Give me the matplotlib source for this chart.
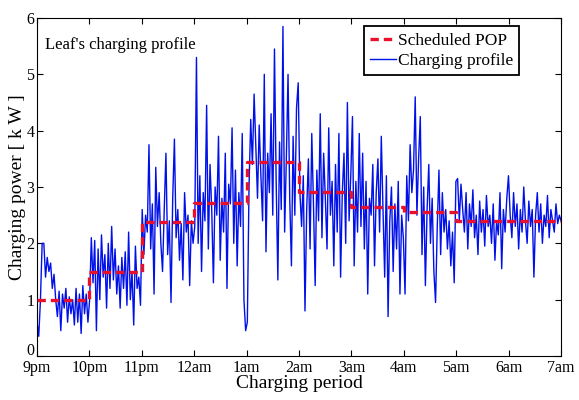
import numpy as np
import matplotlib
matplotlib.use('Agg')
import matplotlib.pyplot as plt
from matplotlib.transforms import ScaledTranslation

plt.rcParams['font.family'] = ['Liberation Serif', 'DejaVu Serif']

hourLabels = ['9pm', '10pm', '11pm', '12am', '1am', '2am', '3am', '4am', '5am', '6am', '7am']

# scheduled power for each hour slot [kW]
scheduledPOP = [1.0, 1.5, 2.37, 2.72, 3.45, 2.91, 2.65, 2.56, 2.4, 2.4]

# measured charging profile, read hour by hour [kW]
h9pm = [0.6, 0.35, 1.0, 2.0, 2.0, 1.4, 1.75, 1.5, 1.65, 1.2, 1.45, 1.0, 0.7, 1.15, 0.45, 1.1,
        0.85, 1.2, 0.6, 1.05, 0.75, 1.0, 0.55, 1.2, 0.6, 1.1, 0.4, 1.25, 0.75, 1.1, 0.6]
h10pm = [1.0, 2.1, 1.3, 2.05, 0.45, 1.9, 1.0, 2.15, 1.4, 1.8, 0.85, 2.0, 1.2, 2.3, 1.35, 1.9,
         1.1, 1.6, 0.85, 1.75, 1.2, 1.85, 0.9, 2.2, 1.0, 1.5, 0.55, 1.95, 1.2, 1.4, 0.9]
h11pm = [2.6, 1.8, 2.5, 2.2, 3.75, 1.9, 2.7, 1.1, 3.35, 2.3, 2.9, 2.0, 1.5, 2.6, 3.6, 1.8,
         2.4, 0.95, 2.8, 3.85, 2.1, 2.6, 1.7, 2.35, 1.35, 2.9, 2.2, 2.5, 1.25, 2.4, 2.0]
h12am = [2.3, 5.3, 2.0, 3.2, 1.5, 2.9, 2.4, 4.45, 1.9, 3.4, 2.6, 1.3, 3.0, 2.5, 3.9, 1.7,
         2.8, 2.2, 3.6, 1.2, 3.05, 2.7, 4.05, 2.0, 3.3, 1.6, 2.9, 2.3, 3.95, 1.0, 0.45]
h1am = [0.6, 3.0, 4.2, 3.4, 4.65, 3.7, 2.8, 4.1, 3.2, 2.4, 5.0, 1.85, 3.6, 2.9, 4.3, 2.5,
        5.45, 3.1, 1.35, 3.8, 2.6, 5.85, 2.2, 3.5, 5.0, 2.8, 1.6, 3.9, 2.5, 4.4, 4.85]
h2am = [2.9, 2.3, 3.2, 0.8, 2.6, 3.5, 1.9, 3.95, 2.7, 1.25, 3.3, 2.4, 4.3, 2.1, 3.6, 2.8,
        1.9, 4.05, 2.5, 3.1, 1.6, 3.4, 2.2, 3.95, 1.4, 2.9, 3.6, 2.0, 4.5, 2.4, 3.2]
h3am = [4.25, 1.6, 3.1, 2.2, 3.95, 2.3, 3.6, 1.9, 3.1, 1.1, 2.8, 2.5, 3.4, 1.6, 2.9, 3.5,
        2.2, 3.9, 2.6, 1.4, 3.2, 0.7, 2.4, 3.0, 1.5, 2.7, 1.9, 3.1, 1.1, 2.5, 2.1]
h4am = [1.1, 3.2, 2.4, 3.75, 2.9, 3.3, 4.6, 2.5, 3.5, 4.25, 1.8, 3.0, 1.25, 2.6, 3.4, 2.0,
        2.8, 1.5, 0.95, 2.3, 3.3, 1.8, 2.9, 2.2, 2.6, 1.9, 2.4, 1.6, 2.2, 1.3, 3.1]
h5am = [3.15, 2.4, 3.05, 2.6, 2.2, 2.9, 1.9, 2.7, 2.3, 2.95, 2.1, 2.5, 1.8, 2.75, 2.2, 2.6,
        1.95, 2.85, 2.3, 2.5, 2.0, 2.7, 1.7, 2.4, 2.15, 2.9, 1.55, 2.6, 2.2, 2.8, 3.2]
h6am = [2.5, 2.1, 2.9, 2.3, 2.7, 1.9, 2.6, 2.2, 3.0, 2.4, 2.0, 2.75, 2.3, 2.6, 1.4, 2.5,
        2.9, 2.2, 2.7, 2.0, 2.5, 2.3, 2.85, 2.1, 2.6, 2.4, 2.2, 2.7, 2.35, 2.5, 2.4]

profile = np.concatenate([h9pm, h10pm, h11pm, h12am, h1am, h2am, h3am, h4am, h5am, h6am])
t = np.linspace(0, 10, len(profile))

fig = plt.figure(figsize=(5.79, 4.0), dpi=100)
ax = fig.add_axes([0.064, 0.11, 0.905, 0.845])

edges = np.arange(len(scheduledPOP) + 1)
ax.step(edges, scheduledPOP + [scheduledPOP[-1]], where='post', color='#e8102a',
        linestyle='--', linewidth=2.4, dashes=(2.5, 1.5), label='Scheduled POP', zorder=3)
ax.plot(t, profile, color='#0010e8', linewidth=1.0, label='Charging profile', zorder=2)

ax.set_xlim(0, 10)
ax.set_ylim(0, 6)
ax.set_xticks(range(11))
ax.set_xticklabels(hourLabels, fontsize=11.5)
ax.set_yticks(range(7))
ax.tick_params(axis='y', labelsize=11.5)
ax.tick_params(direction='in', top=True, right=True, length=4, pad=3)
ax.tick_params(axis='y', pad=2)
# lift the "0" a little so it does not sit on "9pm"
zeroLabel = ax.get_yticklabels()[0]
zeroLabel.set_transform(zeroLabel.get_transform() + ScaledTranslation(0, 5 / 72, fig.dpi_scale_trans))

ax.set_xlabel('Charging period', fontsize=14, labelpad=-1)
ax.set_ylabel('Charging power [ k W ]', fontsize=14, labelpad=0)

ax.text(0.015, 0.92, "Leaf's charging profile", transform=ax.transAxes, fontsize=12,
        va='center', ha='left')

leg = ax.legend(loc='upper right', bbox_to_anchor=(0.92, 0.975), fontsize=12.5,
                handlelength=1.5, handletextpad=0.1, borderpad=0.35, labelspacing=0.25,
                fancybox=False, edgecolor='black', framealpha=1, borderaxespad=0)
leg.get_frame().set_linewidth(1.3)

fig.savefig('out.png', dpi=100)
